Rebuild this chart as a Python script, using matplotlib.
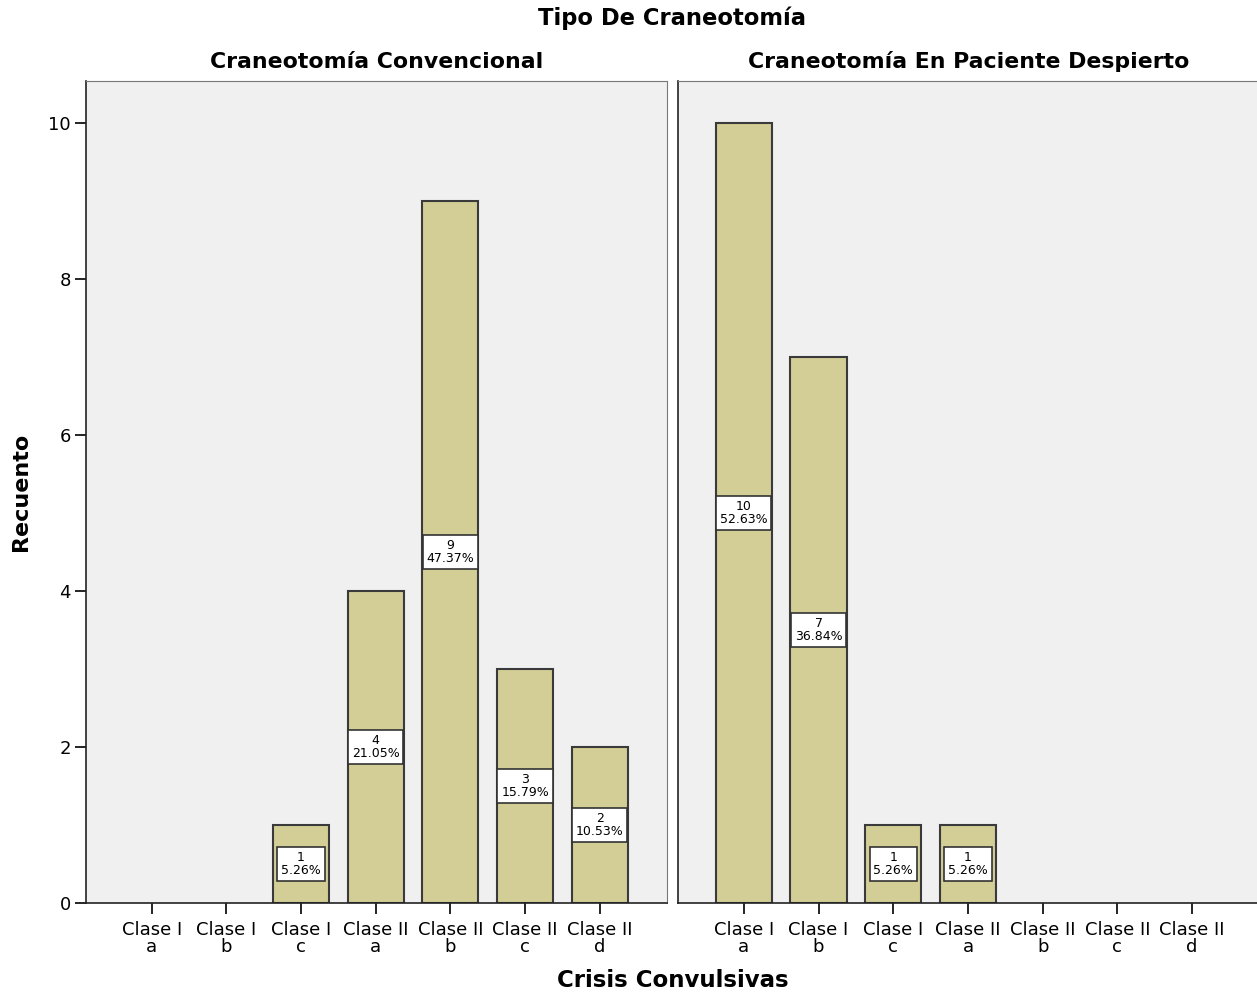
import numpy as np
import matplotlib
matplotlib.use("Agg")
import matplotlib.pyplot as plt

categorias = ["Clase I\na", "Clase I\nb", "Clase I\nc", "Clase II\na",
              "Clase II\nb", "Clase II\nc", "Clase II\nd"]
convencional = [0, 0, 1, 4, 9, 3, 2]
despierto = [10, 7, 1, 1, 0, 0, 0]
paneles = ["Craneotomía Convencional", "Craneotomía En Paciente Despierto"]

plt.rcParams['font.family'] = 'DejaVu Sans'

fig = plt.figure(figsize=(12.57, 9.97), dpi=100)
ax1 = fig.add_axes([0.0684, 0.0943, 0.4622, 0.8245])
ax2 = fig.add_axes([0.5394, 0.0943, 0.4625, 0.8245])

x = np.arange(len(categorias))
for ax, vals, titulo in [(ax1, convencional, paneles[0]), (ax2, despierto, paneles[1])]:
    ax.set_facecolor('#f0f0f0')
    total = sum(vals)
    # las categorías con cero no se dibujan
    idx = [i for i, v in enumerate(vals) if v > 0]
    ax.bar(x[idx], [vals[i] for i in idx], width=0.75, color='#d3cd96',
           edgecolor='#3a3a3a', linewidth=1.5, zorder=2)
    for i in idx:
        v = vals[i]
        ax.text(x[i], v / 2, f"{v}\n{v / total * 100:.2f}%", ha='center', va='center',
                fontsize=9, linespacing=1.05, zorder=3,
                bbox=dict(boxstyle='square,pad=0.3', fc='white', ec='#333333', lw=1.2))
    ax.set_xlim(-0.88, 6.9)
    ax.set_ylim(0, 10.54)
    ax.set_xticks(x)
    ax.set_xticklabels(categorias, fontsize=13, linespacing=0.9)
    ax.tick_params(axis='x', length=8, width=1.2, pad=5)
    ax.set_title(titulo, fontsize=15.8, fontweight='bold', pad=9)
    for s in ['top', 'right']:
        ax.spines[s].set_color('#777777')
    for s in ['left', 'bottom']:
        ax.spines[s].set_color('#222222')
        ax.spines[s].set_linewidth(1.2)

ax1.set_yticks([0, 2, 4, 6, 8, 10])
ax1.tick_params(axis='y', length=8, width=1.2, labelsize=13, pad=3)
ax1.set_ylabel("Recuento", fontsize=16, fontweight='bold', labelpad=12)
ax2.set_yticks([])

fig.text(0.535, 0.982, "Tipo De Craneotomía", ha='center', va='center', fontsize=16.3, fontweight='bold')
fig.text(0.535, 0.017, "Crisis Convulsivas", ha='center', va='center', fontsize=16.5, fontweight='bold')

fig.savefig("out.png", dpi=100)
